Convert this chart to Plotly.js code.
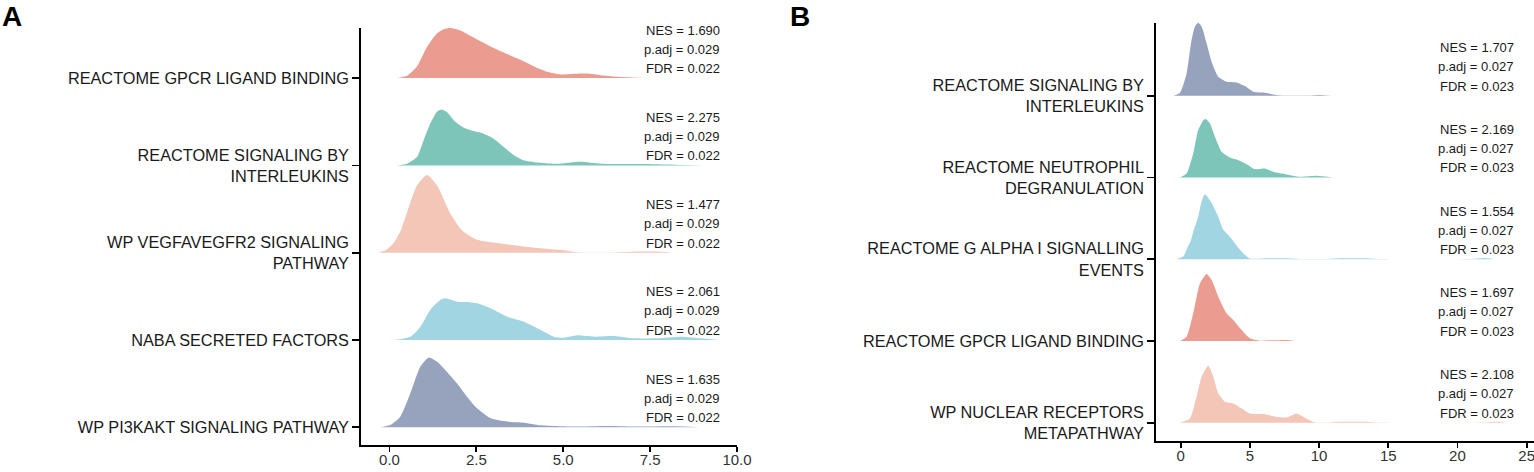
<!DOCTYPE html>
<html>
<head>
<meta charset="utf-8">
<script src="https://cdn.plot.ly/plotly-3.0.1.min.js"></script>
<style>html,body{margin:0;padding:0;background:#fff;}#chart{width:1534px;height:472px;}</style>
</head>
<body>
<div id="chart"></div>
<script>
// ---------- Panel A data (top to bottom) ----------
const catsA = ["REACTOME GPCR LIGAND BINDING", "REACTOME SIGNALING BY<br>INTERLEUKINS", "WP VEGFAVEGFR2 SIGNALING<br>PATHWAY", "NABA SECRETED FACTORS", "WP PI3KAKT SIGNALING PATHWAY"];
const nesA = [1.690, 2.275, 1.477, 2.061, 1.635];
const padjA = [0.029, 0.029, 0.029, 0.029, 0.029];
const fdrA = [0.022, 0.022, 0.022, 0.022, 0.022];
const colorsA = ["#EA9C91", "#7DC5B9", "#F3C6B7", "#A0D5E1", "#97A2BD"];

const xA1 = [0.21,0.50,0.79,1.08,1.37,1.56,1.75,2.04,2.42,2.91,3.39,3.77,4.16,4.54,4.92,5.31,5.69,6.08,6.56,7.42];
const hA1 = [0,0.027,0.134,0.36,0.515,0.56,0.573,0.546,0.466,0.363,0.275,0.21,0.134,0.073,0.042,0.05,0.053,0.034,0.015,0];
const xA2 = [0.21,0.50,0.79,0.98,1.17,1.37,1.49,1.65,1.90,2.14,2.42,2.71,3.00,3.29,3.58,3.87,4.35,4.83,5.50,6.08,7.23,8.19,9.06];
const hA2 = [0,0.019,0.095,0.286,0.477,0.618,0.641,0.611,0.496,0.431,0.393,0.363,0.305,0.21,0.115,0.057,0.031,0.019,0.042,0.019,0.015,0.008,0];
const xA3 = [-0.32,-0.10,0.12,0.32,0.52,0.79,1.08,1.37,1.75,2.10,2.50,3.19,4.35,5.12,5.45,6.27,7.00,7.80,8.15];
const hA3 = [0,0.03,0.11,0.25,0.48,0.77,0.89,0.77,0.45,0.25,0.15,0.105,0.05,0.023,0.003,0.003,0.012,0.01,0];
const xA4 = [0.12,0.60,0.89,1.17,1.46,1.61,1.94,2.23,2.52,2.91,3.39,3.87,4.35,4.73,5.02,5.40,5.89,6.46,7.04,7.71,8.39,8.96,9.44];
const hA4 = [0,0.038,0.153,0.344,0.458,0.477,0.439,0.435,0.42,0.363,0.267,0.21,0.115,0.038,0.027,0.053,0.038,0.046,0.019,0.019,0.038,0.019,0];
const xA5 = [-0.27,0.02,0.31,0.60,0.89,1.13,1.37,1.65,1.94,2.23,2.52,2.91,3.39,3.87,4.35,5.31,6.27,7.23,8.19,8.91];
const hA5 = [0,0.027,0.122,0.389,0.695,0.80,0.75,0.637,0.504,0.351,0.218,0.103,0.065,0.053,0.023,0.008,0.015,0.008,0.011,0];

// ---------- Panel B data (top to bottom) ----------
const catsB = ["REACTOME SIGNALING BY<br>INTERLEUKINS", "REACTOME NEUTROPHIL<br>DEGRANULATION", "REACTOME G ALPHA I SIGNALLING<br>EVENTS", "REACTOME GPCR LIGAND BINDING", "WP NUCLEAR RECEPTORS<br>METAPATHWAY"];
const nesB = [1.707, 2.169, 1.554, 1.697, 2.108];
const padjB = [0.027, 0.027, 0.027, 0.027, 0.027];
const fdrB = [0.023, 0.023, 0.023, 0.023, 0.023];
const colorsB = ["#97A2BD", "#7DC5B9", "#A0D5E1", "#EA9C91", "#F3C6B7"];

const xB1 = [-0.53,-0.05,0.43,0.79,1.03,1.27,1.52,1.88,2.24,2.72,3.32,4.04,4.65,5.25,6.09,6.93,7.42,9.22,10.07,10.91];
const hB1 = [0,0.037,0.273,0.681,0.844,0.893,0.844,0.64,0.416,0.232,0.171,0.163,0.118,0.049,0.037,0.008,0.002,0.002,0.008,0];
const xB2 = [-0.05,0.43,0.91,1.27,1.64,1.80,2.12,2.48,2.96,3.56,4.17,4.77,5.37,6.09,6.69,7.66,8.62,9.82,11.03];
const hB2 = [0,0.049,0.294,0.579,0.701,0.714,0.661,0.497,0.314,0.245,0.212,0.163,0.102,0.11,0.069,0.037,0.008,0.02,0];
const xB3 = [-0.29,0.19,0.43,0.75,0.95,1.27,1.50,1.76,2.20,2.72,3.08,3.56,3.92,4.29,4.65,5.01,6.00,7.50,8.90,10.40,11.50,13.40,14.40,20.80,22.00,22.70];
const hB3 = [0,0.032,0.12,0.236,0.36,0.52,0.70,0.795,0.70,0.52,0.36,0.276,0.196,0.114,0.053,0.008,0.01,0.012,0.002,0.002,0.012,0.012,0.002,0.002,0.015,0];
const xB4 = [-0.05,0.43,0.91,1.40,1.88,2.24,2.72,3.32,3.80,4.41,5.01,5.73,6.69,7.66,8.26];
const hB4 = [0,0.053,0.338,0.705,0.82,0.746,0.542,0.338,0.257,0.135,0.033,0.004,0.008,0.012,0];
const xB5 = [-0.05,0.67,1.15,1.52,2.00,2.36,2.72,3.20,3.80,4.41,5.01,5.97,6.93,7.66,8.38,8.86,9.58,10.55,11.51,13.44,14.40,21.87,22.83,23.55];
const hB5 = [0,0.053,0.318,0.563,0.697,0.563,0.359,0.257,0.236,0.175,0.114,0.106,0.073,0.065,0.114,0.073,0.008,0.002,0.012,0.012,0.002,0.002,0.012,0];

// ---------- Axis tick labels ----------
const xTicksA = [0, 2.5, 5, 7.5, 10];
const xTickTextA = ["0.0", "2.5", "5.0", "7.5", "10.0"];
const xTicksB = [0, 5, 10, 15, 20, 25];
const xTickTextB = ["0", "5", "10", "15", "20", "25"];

const FONT = "Liberation Sans, Arial, Helvetica, sans-serif";
const W = 1534, H = 472;

const ridgesA = [[xA1,hA1],[xA2,hA2],[xA3,hA3],[xA4,hA4],[xA5,hA5]];
const ridgesB = [[xB1,hB1],[xB2,hB2],[xB3,hB3],[xB4,hB4],[xB5,hB5]];

const traces = [];
const annotations = [];

function addPanel(ridges, cats, colors, nes, padj, fdr, xa, ya, annX) {
  const n = cats.length;
  ridges.forEach(([xs, hs], k) => {
    const idx = n - 1 - k;
    traces.push({
      type: "scatter", mode: "lines",
      x: xs, y: hs.map(h => idx + h),
      xaxis: xa, yaxis: ya,
      fill: "toself", fillcolor: colors[k],
      line: {width: 0, color: colors[k], shape: "spline", smoothing: 0.6},
      hoverinfo: "skip", showlegend: false
    });
    const lines = ["NES = " + nes[k].toFixed(3), "p.adj = " + padj[k].toFixed(3), "FDR = " + fdr[k].toFixed(3)];
    const shifts = [48, 29, 9.5];
    lines.forEach((t, j) => {
      annotations.push({
        xref: xa, yref: ya, x: annX, y: idx, xanchor: "right", yanchor: "middle",
        yshift: shifts[j], text: t, showarrow: false,
        font: {family: FONT, size: 13, color: "#1a1a1a"}
      });
    });
  });
}

addPanel(ridgesA, catsA, colorsA, nesA, padjA, fdrA, "x", "y", 9.567);
addPanel(ridgesB, catsB, colorsB, nesB, padjB, fdrB, "x2", "y2", 24.2);

annotations.push({xref: "paper", yref: "paper", x: 1/W, y: 1, xanchor: "left", yanchor: "top", borderpad: 0,
  text: "<b>A</b>", showarrow: false, font: {family: FONT, size: 28, color: "#000"}});
annotations.push({xref: "paper", yref: "paper", x: 789/W, y: 1, xanchor: "left", yanchor: "top", borderpad: 0,
  text: "<b>B</b>", showarrow: false, font: {family: FONT, size: 28, color: "#000"}});

const axBase = {
  showline: true, linecolor: "#000", linewidth: 1.8, mirror: false,
  ticks: "outside", tickcolor: "#000", tickwidth: 1.8,
  showgrid: false, zeroline: false, fixedrange: true
};

const layout = {
  width: W, height: H,
  margin: {l: 0, r: 0, t: 0, b: 0},
  paper_bgcolor: "#fff", plot_bgcolor: "rgba(0,0,0,0)",
  showlegend: false,
  xaxis: Object.assign({}, axBase, {
    domain: [361/W, 737/W], range: [-0.82, 10.0], anchor: "y",
    tickvals: xTicksA, ticktext: xTickTextA, ticklen: 5,
    ticklabeloverflow: "allow", ticklabelstandoff: -5,
    tickfont: {family: FONT, size: 15, color: "#333"}
  }),
  yaxis: Object.assign({}, axBase, {
    domain: [27/H, 444/H], range: [-0.203, 4.574], anchor: "x",
    tickvals: [4,3,2,1,0], ticktext: catsA, ticklen: 7,
    tickfont: {family: FONT, size: 16.3, color: "#1a1a1a"}
  }),
  xaxis2: Object.assign({}, axBase, {
    domain: [1156/W, 1], range: [-1.78, 25.53], anchor: "y2",
    tickvals: xTicksB, ticktext: xTickTextB, ticklen: 5,
    ticklabeloverflow: "allow", ticklabelstandoff: -5,
    tickfont: {family: FONT, size: 15, color: "#333"}
  }),
  yaxis2: Object.assign({}, axBase, {
    domain: [(H-440.7)/H, (H-22.7)/H], range: [-0.22, 4.893], anchor: "x2",
    tickvals: [4,3,2,1,0], ticktext: catsB, ticklen: 7,
    tickfont: {family: FONT, size: 16.3, color: "#1a1a1a"}
  }),
  annotations: annotations
};

Plotly.newPlot("chart", traces, layout, {staticPlot: true, displayModeBar: false});
</script>
</body>
</html>
